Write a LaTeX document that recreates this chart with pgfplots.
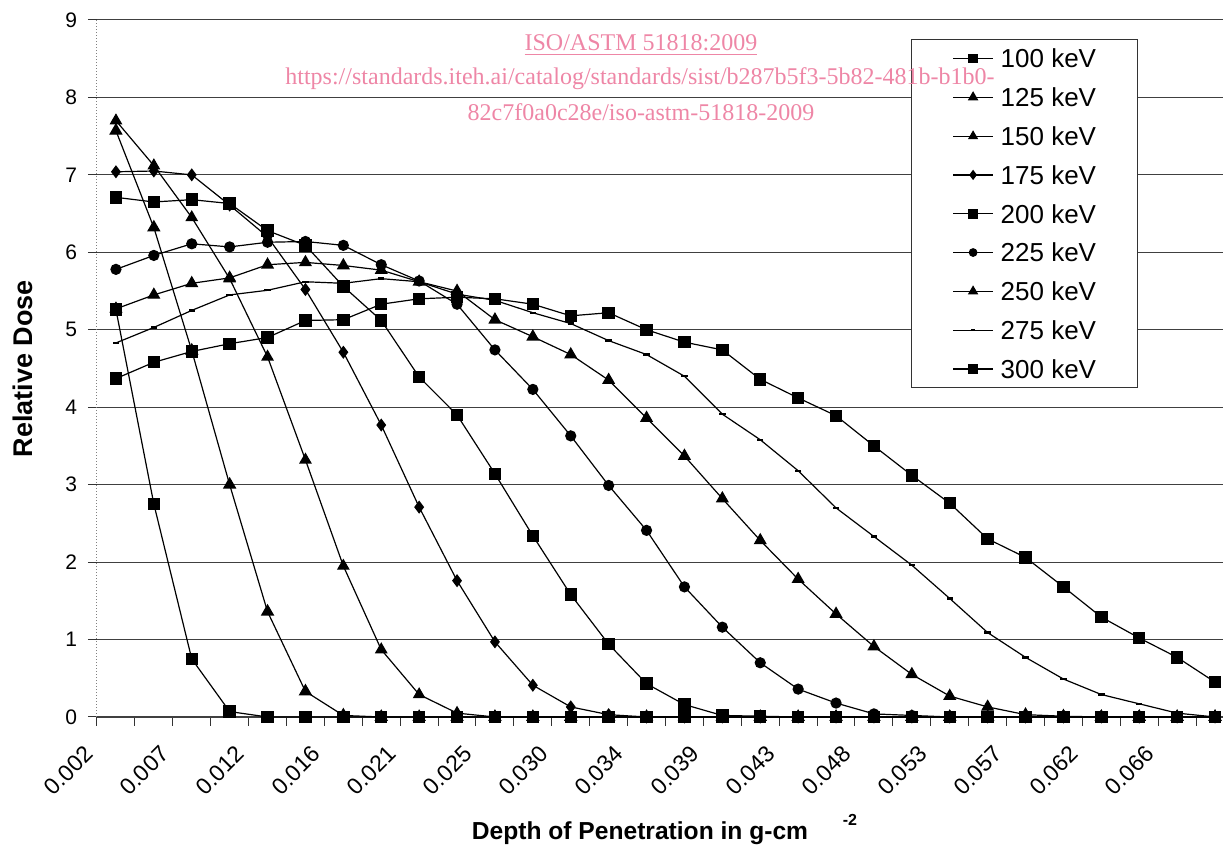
\documentclass[border=0pt]{standalone}
\usepackage{pgfplots}
\pgfplotsset{compat=1.18}
\usepackage{fontspec}
\setmainfont{Liberation Sans}
\newfontfamily\wmfont{Liberation Serif}
\definecolor{wm}{RGB}{238,134,166}
\begin{document}
\begin{tikzpicture}[x=1pt,y=1pt]
\useasboundingbox (-48.5,-64.5) rectangle (563,358.5);
\begin{axis}[
  at={(0,0)}, anchor=south west,
  scale only axis, width=563pt, height=348.5pt,
  xmin=-0.5, xmax=29.21, ymin=0, ymax=9,
  ytick={0,1,...,9},
  ymajorgrids, major grid style={black!75, line width=0.5pt},
  xtick={-0.5,0.5,...,28.5},
  xticklabels={0.002,,0.007,,0.012,,0.016,,0.021,,0.025,,0.030,,0.034,,0.039,,0.043,,0.048,,0.053,,0.057,,0.062,,0.066,},
  tick align=outside, major tick length=4.5pt,
  tick style={black!80, line width=0.5pt},
  axis x line*=bottom, axis y line*=left,
  x axis line style={-, black!75, line width=0.8pt},
  y axis line style={-, black!50, densely dotted, line width=0.5pt},
  /pgf/number format/assume math mode=true,
  yticklabel style={font=\fontsize{10.5}{12}\selectfont, xshift=-2pt},
  xticklabel style={yshift=-12pt, xshift=-4pt, rotate=45, anchor=east, inner sep=0pt, font=\fontsize{11.5}{13}\selectfont},
  every axis plot/.append style={black, line width=0.6pt, mark options={solid, fill=black}},
  legend image code/.code={\draw[mark repeat=2,mark phase=2,#1, every mark/.append style={scale=0.75}] plot coordinates {(0pt,0pt) (10pt,0pt) (20pt,0pt)};},
  legend style={at={(0.7229,0.9727)}, anchor=north west, draw=black!80, line width=0.5pt, fill=white,
    font=\fontsize{13}{15}\selectfont, inner xsep=20.5pt, inner ysep=4.8pt, row sep=10pt, column sep=3.5pt,
    nodes={inner sep=0pt, text height=9.4pt, text depth=0pt}},
  legend cell align=left,
  clip=false,
]
\addplot[mark=square*, mark size=2.8pt] coordinates {(0,5.26)(1,2.75)(2,0.75)(3,0.07)(4,0)(5,0)(6,0)(7,0)(8,0)(9,0)(10,0)(11,0)(12,0)(13,0)(14,0)(15,0)(16,0)(17,0)(18,0)(19,0)(20,0)(21,0)(22,0)(23,0)(24,0)(25,0)(26,0)(27,0)(28,0)(29,0)};
\addlegendentry{100 keV}
\addplot[mark=triangle*, mark size=3.3pt] coordinates {(0,7.57)(1,6.32)(2,4.73)(3,3.00)(4,1.36)(5,0.33)(6,0.02)(7,0)(8,0)(9,0)(10,0)(11,0)(12,0)(13,0)(14,0)(15,0)(16,0)(17,0)(18,0)(19,0)(20,0)(21,0)(22,0)(23,0)(24,0)(25,0)(26,0)(27,0)(28,0)(29,0)};
\addlegendentry{125 keV}
\addplot[mark=triangle*, mark size=3.1pt] coordinates {(0,7.70)(1,7.12)(2,6.45)(3,5.66)(4,4.65)(5,3.32)(6,1.95)(7,0.87)(8,0.29)(9,0.05)(10,0)(11,0)(12,0)(13,0)(14,0)(15,0)(16,0)(17,0)(18,0)(19,0)(20,0)(21,0)(22,0)(23,0)(24,0)(25,0)(26,0)(27,0)(28,0)(29,0)};
\addlegendentry{150 keV}
\addplot[mark=diamond*, mark size=2.8pt] coordinates {(0,7.04)(1,7.05)(2,7.00)(3,6.61)(4,6.20)(5,5.52)(6,4.71)(7,3.77)(8,2.71)(9,1.76)(10,0.97)(11,0.41)(12,0.13)(13,0.03)(14,0)(15,0)(16,0)(17,0)(18,0)(19,0)(20,0)(21,0)(22,0)(23,0)(24,0)(25,0)(26,0)(27,0)(28,0)(29,0)};
\addlegendentry{175 keV}
\addplot[mark=square*, mark size=2.8pt] coordinates {(0,6.71)(1,6.65)(2,6.68)(3,6.63)(4,6.28)(5,6.09)(6,5.56)(7,5.12)(8,4.39)(9,3.90)(10,3.14)(11,2.34)(12,1.58)(13,0.94)(14,0.43)(15,0.16)(16,0.02)(17,0.01)(18,0)(19,0)(20,0)(21,0)(22,0)(23,0)(24,0)(25,0)(26,0)(27,0)(28,0)(29,0)};
\addlegendentry{200 keV}
\addplot[mark=*, mark size=2.5pt] coordinates {(0,5.78)(1,5.96)(2,6.11)(3,6.07)(4,6.13)(5,6.14)(6,6.09)(7,5.84)(8,5.63)(9,5.33)(10,4.74)(11,4.23)(12,3.63)(13,2.99)(14,2.41)(15,1.68)(16,1.16)(17,0.70)(18,0.36)(19,0.18)(20,0.04)(21,0.02)(22,0)(23,0)(24,0)(25,0)(26,0)(27,0)(28,0)(29,0)};
\addlegendentry{225 keV}
\addplot[mark=triangle*, mark size=3.2pt] coordinates {(0,5.27)(1,5.45)(2,5.60)(3,5.67)(4,5.84)(5,5.87)(6,5.83)(7,5.77)(8,5.62)(9,5.50)(10,5.13)(11,4.91)(12,4.68)(13,4.35)(14,3.86)(15,3.37)(16,2.82)(17,2.28)(18,1.78)(19,1.33)(20,0.91)(21,0.55)(22,0.27)(23,0.13)(24,0.03)(25,0.01)(26,0)(27,0)(28,0)(29,0)};
\addlegendentry{250 keV}
\addplot[mark=-, mark size=1.6pt, mark options={line width=1.2pt}] coordinates {(0,4.83)(1,5.03)(2,5.25)(3,5.45)(4,5.51)(5,5.62)(6,5.60)(7,5.66)(8,5.62)(9,5.46)(10,5.38)(11,5.22)(12,5.08)(13,4.86)(14,4.68)(15,4.40)(16,3.91)(17,3.58)(18,3.18)(19,2.70)(20,2.33)(21,1.96)(22,1.53)(23,1.09)(24,0.77)(25,0.49)(26,0.29)(27,0.17)(28,0.05)(29,0.00)};
\addlegendentry{275 keV}
\addplot[mark=square*, mark size=2.8pt] coordinates {(0,4.37)(1,4.58)(2,4.72)(3,4.82)(4,4.90)(5,5.12)(6,5.13)(7,5.33)(8,5.40)(9,5.42)(10,5.40)(11,5.33)(12,5.18)(13,5.22)(14,5.00)(15,4.84)(16,4.74)(17,4.36)(18,4.12)(19,3.89)(20,3.50)(21,3.12)(22,2.76)(23,2.30)(24,2.06)(25,1.68)(26,1.29)(27,1.02)(28,0.77)(29,0.45)};
\addlegendentry{300 keV}
\end{axis}
\node[rotate=90, font=\fontsize{13.5}{16}\selectfont\bfseries] at (-37,174.25) {Relative Dose};
\node[anchor=base, font=\fontsize{12.3}{14}\selectfont\bfseries] at (271.5,-61.5) {Depth of Penetration in g-cm};
\node[font=\fontsize{8}{9}\selectfont\bfseries] at (376.5,-51.5) {-2};
\begin{scope}[every node/.style={text=wm, font=\wmfont\fontsize{12}{14}\selectfont, inner sep=0pt}]
\node at (272,336) {\underline{ISO/ASTM 51818:2009}};
\node at (271.5,319) {https://standards.iteh.ai/catalog/standards/sist/b287b5f3-5b82-481b-b1b0-};
\node at (272,302.5) {82c7f0a0c28e/iso-astm-51818-2009};
\end{scope}
\end{tikzpicture}
\end{document}
